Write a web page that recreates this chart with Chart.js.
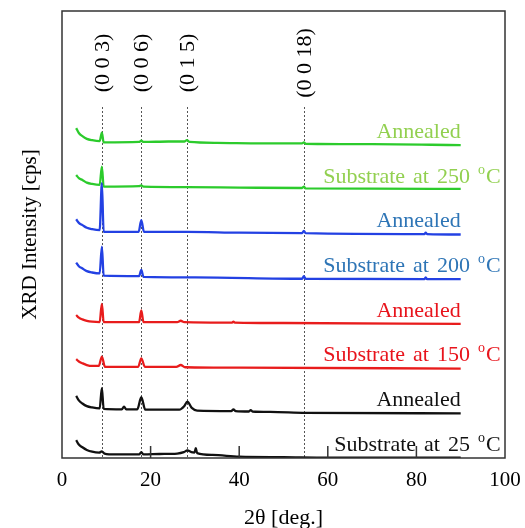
<!DOCTYPE html>
<html>
<head>
<meta charset="utf-8">
<script src="https://cdn.jsdelivr.net/npm/chart.js@4.4.1/dist/chart.umd.min.js"></script>
<style>
  body { margin: 0; background: #fff; }
  #xrd { display: block; }
</style>
</head>
<body>
<canvas id="xrd" width="525" height="528"></canvas>
<script>
// 2theta / relative intensity, bottom trace first
var sub25 = [[3.2,0.40],[3.8,0.30],[4.6,0.24],[5.6,0.18],[6.8,0.14],[8.4,0.12],[9.0,0.15],[9.6,0.10],[12,0.08],[17.4,0.08],[17.9,0.13],[18.4,0.08],[22,0.09],[26,0.10],[27.5,0.13],[28.3,0.17],[29.2,0.13],[29.9,0.12],[30.2,0.22],[30.5,0.11],[34,0.07],[40,0.03],[50,0.02],[60,0.01],[90,0.01]];
var ann25 = [[3.2,0.39],[3.8,0.29],[4.6,0.22],[5.6,0.16],[6.8,0.13],[8.5,0.11],[9.0,0.56],[9.4,0.10],[13.5,0.09],[14.0,0.15],[14.5,0.09],[17.0,0.09],[17.9,0.36],[18.8,0.08],[26.5,0.08],[27.6,0.16],[28.3,0.26],[29.3,0.12],[30.5,0.06],[38.2,0.05],[38.7,0.09],[39.2,0.05],[42.2,0.04],[42.6,0.07],[43.0,0.04],[47,0.03],[55,0.01],[90,0.0]];
var sub150 = [[3.2,0.21],[3.8,0.16],[4.6,0.12],[5.6,0.08],[6.8,0.06],[8.3,0.06],[9.0,0.27],[9.7,0.04],[17.2,0.04],[17.9,0.23],[18.7,0.04],[25.8,0.04],[26.8,0.08],[27.8,0.03],[40,0.02],[90,0.0]];
var ann150 = [[3.2,0.20],[3.8,0.14],[4.6,0.10],[5.6,0.07],[6.8,0.05],[8.5,0.04],[9.0,0.45],[9.4,0.04],[17.4,0.04],[17.9,0.30],[18.4,0.04],[26,0.04],[26.8,0.07],[27.6,0.04],[38.4,0.03],[38.7,0.05],[39.0,0.03],[50,0.02],[90,0.0]];
var sub200 = [[3.2,0.37],[3.8,0.29],[4.6,0.24],[5.6,0.18],[6.8,0.15],[8.5,0.13],[9.0,0.73],[9.4,0.08],[17.4,0.07],[17.9,0.21],[18.4,0.05],[30,0.04],[54.2,0.01],[54.6,0.07],[55.0,0.01],[81.8,0.0],[82.1,0.04],[82.4,0.0],[90,0.0]];
var ann200 = [[3.2,0.34],[3.8,0.26],[4.6,0.21],[5.6,0.15],[6.8,0.12],[8.5,0.10],[9.0,1.15],[9.4,0.06],[17.3,0.06],[17.9,0.32],[18.5,0.06],[28.2,0.06],[40,0.04],[54.2,0.03],[54.6,0.08],[55.0,0.03],[81.8,0.01],[82.1,0.04],[82.4,0.01],[90,0.0]];
var sub250 = [[3.2,0.33],[3.8,0.26],[4.6,0.22],[5.6,0.16],[6.8,0.13],[8.5,0.11],[9.0,0.52],[9.4,0.07],[17.4,0.08],[17.9,0.10],[18.4,0.07],[28.2,0.06],[40,0.05],[54.2,0.04],[54.6,0.07],[55.0,0.03],[90,0.02]];
var ann250 = [[3.2,0.38],[3.8,0.27],[4.6,0.20],[5.6,0.14],[6.8,0.11],[8.5,0.09],[9.0,0.28],[9.4,0.06],[17.4,0.07],[17.9,0.10],[18.4,0.07],[24,0.08],[27.6,0.08],[28.2,0.11],[28.8,0.07],[35,0.05],[45,0.04],[54.2,0.04],[54.6,0.06],[55.0,0.03],[70,0.02],[90,0.0]];

var traces = [sub25, ann25, sub150, ann150, sub200, ann200, sub250, ann250];
var offsets = [0, 1, 2, 3, 4, 5, 6, 7];
var traceNames = ["Substrate at 25 ", "Annealed", "Substrate at 150 ", "Annealed", "Substrate at 200 ", "Annealed", "Substrate at 250 ", "Annealed"];
var lineColors = ["#111111", "#111111", "#e81c1c", "#e81c1c", "#2341e3", "#2341e3", "#2ccb2c", "#2ccb2c"];
var textColors = ["#111111", "#111111", "#e8141c", "#e8141c", "#2e75b6", "#2e75b6", "#92d050", "#92d050"];

var peakPos = [9.0, 17.9, 28.2, 54.6];
var peakNames = ["(0 0 3)", "(0 0 6)", "(0 1 5)", "(0 0 18)"];

var serif = "'Liberation Serif', 'Times New Roman', serif";

var datasets = [];
for (let i = 0; i < traces.length; i++) {
    datasets.push({
        data: traces[i].map(p => ({x: p[0], y: p[1] + offsets[i]})),
        borderColor: lineColors[i],
        borderWidth: 2.3,
        pointRadius: 0,
        fill: false,
        cubicInterpolationMode: 'monotone'
    });
}

// peak marker lines and hkl labels
var peakPlugin = {
    id: 'peaks',
    beforeDatasetsDraw(chart) {
        var ctx = chart.ctx, xs = chart.scales.x, area = chart.chartArea;
        ctx.save();
        ctx.strokeStyle = '#555';
        ctx.lineWidth = 1;
        ctx.setLineDash([2, 2]);
        for (let i = 0; i < peakPos.length; i++) {
            var px = Math.round(xs.getPixelForValue(peakPos[i])) + 0.5;
            ctx.beginPath();
            ctx.moveTo(px, 107);
            ctx.lineTo(px, area.bottom);
            ctx.stroke();
        }
        ctx.setLineDash([]);
        ctx.fillStyle = '#000';
        ctx.font = '22px ' + serif;
        ctx.textAlign = 'center';
        ctx.textBaseline = 'middle';
        for (let i = 0; i < peakPos.length; i++) {
            ctx.save();
            ctx.translate(xs.getPixelForValue(peakPos[i]) + 1, 63);
            ctx.rotate(-Math.PI / 2);
            ctx.fillText(peakNames[i], 0, 0);
            ctx.restore();
        }
        ctx.restore();
    }
};

// frame, inward ticks and trace names
var framePlugin = {
    id: 'frame',
    afterDatasetsDraw(chart) {
        var ctx = chart.ctx, xs = chart.scales.x, ys = chart.scales.y, a = chart.chartArea;
        ctx.save();
        ctx.strokeStyle = '#333';
        ctx.lineWidth = 1.5;
        ctx.strokeRect(a.left, a.top, a.right - a.left, a.bottom - a.top);
        xs.ticks.forEach(t => {
            if (t.value <= xs.min || t.value >= xs.max) return;
            var px = xs.getPixelForValue(t.value);
            ctx.beginPath();
            ctx.moveTo(px, a.bottom);
            ctx.lineTo(px, a.bottom - 12);
            ctx.stroke();
        });

        ctx.textBaseline = 'middle';
        for (let i = 0; i < traces.length; i++) {
            var y = ys.getPixelForValue(offsets[i] + 0.29);
            ctx.fillStyle = textColors[i];
            var name = traceNames[i];
            if (name === "Annealed") {
                ctx.font = '22px ' + serif;
                ctx.textAlign = 'right';
                ctx.fillText(name, xs.getPixelForValue(90), y);
            } else {
                // "Substrate at N" + superscript o + "C", right edge near 99
                ctx.textAlign = 'left';
                ctx.font = '22px ' + serif;
                var words = name.trim().split(' ');
                var gap = 8;
                var ww = words.map(w => ctx.measureText(w).width);
                var wc = ctx.measureText("C").width;
                ctx.font = '14px ' + serif;
                var wo = ctx.measureText("o").width;
                var total = ww.reduce((s, v) => s + v, 0) + gap * words.length + wo + 1 + wc;
                var x = xs.getPixelForValue(99) - total;
                ctx.font = '22px ' + serif;
                for (let k = 0; k < words.length; k++) {
                    ctx.fillText(words[k], x, y);
                    x += ww[k] + gap;
                }
                ctx.font = '14px ' + serif;
                ctx.fillText("o", x, y - 7);
                x += wo + 1;
                ctx.font = '22px ' + serif;
                ctx.fillText("C", x, y);
            }
        }
        ctx.restore();
    }
};

var chart = new Chart(document.getElementById('xrd'), {
    type: 'line',
    data: { datasets: datasets },
    options: {
        responsive: false,
        animation: false,
        events: [],
        layout: { padding: { top: 11, right: 20, left: 0, bottom: 0 } },
        plugins: { legend: { display: false }, tooltip: { enabled: false } },
        scales: {
            x: {
                type: 'linear',
                min: 0,
                max: 100,
                afterFit: function(s) { s.height = 70; s.paddingRight = 0; },
                grid: { display: false },
                border: { display: false },
                ticks: { stepSize: 20, color: '#000', padding: 2, font: { family: serif, size: 21 } },
                title: { display: true, text: '2θ [deg.]', color: '#000', padding: { top: 0, bottom: -3 }, font: { family: serif, size: 22 } }
            },
            y: {
                min: 0,
                max: 10,
                afterFit: function(s) { s.width = 62; },
                grid: { display: false },
                border: { display: false },
                ticks: { display: false },
                title: { display: true, text: 'XRD Intensity [cps]', color: '#000', padding: { top: 18, bottom: 0 }, font: { family: serif, size: 21 } }
            }
        }
    },
    plugins: [peakPlugin, framePlugin]
});
</script>
</body>
</html>
